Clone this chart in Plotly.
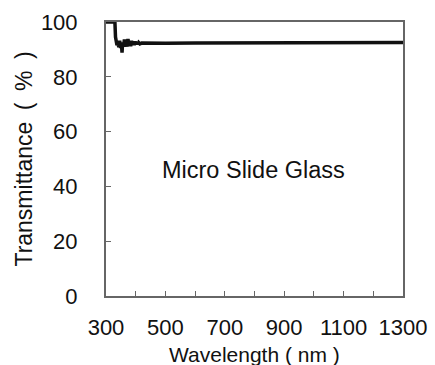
import plotly.graph_objects as go

# Transmission spectrum of a micro slide glass
wavelength_nm = [300, 330, 332, 334, 337, 340, 343, 346, 349, 352, 354, 356, 359,
                 362, 365, 368, 371, 374, 377, 380, 383, 386, 389, 392, 395, 398,
                 401, 404, 407, 410, 414, 420, 450, 500, 600, 700, 800, 900, 1000,
                 1100, 1200, 1300]
transmittance_pct = [100, 100, 94.5, 92.0, 91.5, 92.8, 90.8, 93.2, 90.5, 92.2, 88.8,
                     92.6, 91.0, 93.6, 91.4, 92.9, 91.0, 93.8, 91.5, 92.7, 91.2,
                     93.1, 91.6, 92.8, 91.6, 92.9, 91.8, 92.7, 91.9, 92.5, 92.0,
                     92.3, 92.2, 92.2, 92.3, 92.3, 92.4, 92.4, 92.5, 92.5, 92.5,
                     92.5]

x_tick_vals = list(range(300, 1301, 100))
x_tick_text = [str(v) if (v - 300) % 200 == 0 else "" for v in x_tick_vals]
y_tick_vals = [0, 20, 40, 60, 80, 100]

label_font = "Liberation Sans, Arial, sans-serif"

fig = go.Figure()
fig.add_trace(go.Scatter(
    x=wavelength_nm, y=transmittance_pct, mode="lines",
    line=dict(color="#111111", width=3.5), showlegend=False,
))

fig.add_annotation(
    x=795, y=46, xref="x", yref="y", text="Micro Slide Glass",
    showarrow=False, font=dict(family=label_font, size=23.5, color="#111111"),
)

# x-axis title placed below the tick labels
fig.add_annotation(
    x=0.5, y=-0.212, xref="paper", yref="paper", xanchor="center",
    yanchor="middle", text="Wavelength ( nm )", showarrow=False,
    font=dict(family=label_font, size=21, color="#111111"),
)

axis_common = dict(
    showline=True, linecolor="#666666", linewidth=2, mirror=True,
    ticks="inside", ticklen=5, tickcolor="#666666", tickwidth=1,
    showgrid=False, zeroline=False, automargin=False,
    tickfont=dict(family=label_font, size=22, color="#111111"),
)

fig.update_layout(
    width=435, height=365,
    margin=dict(l=106, r=32, t=22, b=69),
    paper_bgcolor="white", plot_bgcolor="white",
    xaxis=dict(
        range=[300, 1300], tickmode="array", tickvals=x_tick_vals,
        ticktext=x_tick_text, ticklabelstandoff=11,
        **axis_common,
    ),
    yaxis=dict(
        range=[0, 100], tickmode="array", tickvals=y_tick_vals,
        ticklabelstandoff=22,
        title=dict(text="Transmittance\u2002(\u2002%\u2002)", standoff=2,
                   font=dict(family=label_font, size=23, color="#111111")),
        **axis_common,
    ),
)

fig.write_html("out.html")
